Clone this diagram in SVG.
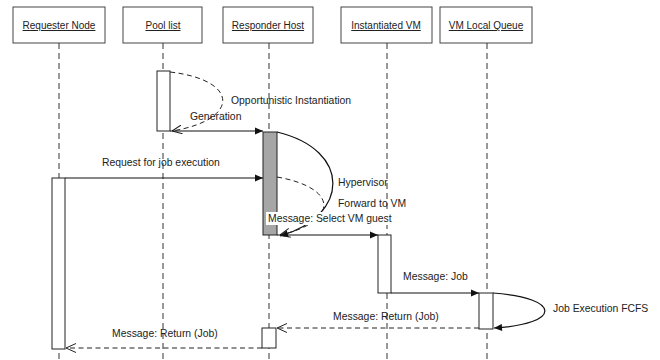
<svg xmlns="http://www.w3.org/2000/svg" width="660" height="360" viewBox="0 0 660 360">
  <style>
    .hdr { fill: #fff; stroke: #444; stroke-width: 1; }
    .life { stroke: #333; stroke-width: 1; stroke-dasharray: 6 4; fill: none; }
    .act { fill: #fff; stroke: #222; stroke-width: 1; }
    .act-busy { fill: #a6a6a6; stroke: #222; stroke-width: 1; }
    .msg { stroke: #111; stroke-width: 1.2; fill: none; }
    .ret { stroke: #222; stroke-width: 1; fill: none; stroke-dasharray: 5 3.5; }
    text { font-family: "Liberation Sans", Arial, sans-serif; font-size: 10.4px; fill: #222; }
    .title { text-anchor: middle; text-decoration: underline; font-size: 10px; }
  </style>
  <defs>
    <marker id="solid-head" viewBox="0 0 10 10" refX="10" refY="5" markerWidth="9" markerHeight="8" markerUnits="userSpaceOnUse" orient="auto">
      <path d="M0,0.5 L10,5 L0,9.5 z" fill="#111"/>
    </marker>
    <marker id="open-head" viewBox="0 0 10 10" refX="10" refY="5" markerWidth="10" markerHeight="10" markerUnits="userSpaceOnUse" orient="auto">
      <path d="M0,0.5 L10,5 L0,9.5" fill="none" stroke="#222" stroke-width="1"/>
    </marker>
  </defs>

  <rect width="660" height="360" fill="#fff"/>

  <!-- lifelines -->
  <g id="requester-node">
    <rect class="hdr" x="13" y="7" width="92" height="36"/>
    <text class="title" x="59" y="29">Requester Node</text>
    <line class="life" x1="59" y1="43" x2="59" y2="360"/>
    <rect class="act" x="52" y="178" width="13" height="171"/>
  </g>
  <g id="pool-list">
    <rect class="hdr" x="123" y="7" width="79" height="36"/>
    <text class="title" x="163" y="29">Pool list</text>
    <line class="life" x1="163" y1="43" x2="163" y2="360"/>
    <rect class="act" x="157" y="71" width="13" height="60"/>
  </g>
  <g id="responder-host">
    <rect class="hdr" x="223" y="7" width="90" height="36"/>
    <text class="title" x="268" y="29">Responder Host</text>
    <line class="life" x1="269" y1="43" x2="269" y2="360"/>
    <rect class="act-busy" x="263" y="132" width="14" height="103"/>
    <rect class="act" x="262" y="328" width="14" height="20"/>
  </g>
  <g id="instantiated-vm">
    <rect class="hdr" x="341" y="7" width="91" height="36"/>
    <text class="title" x="386" y="29">Instantiated VM</text>
    <line class="life" x1="387" y1="43" x2="387" y2="360"/>
    <rect class="act" x="378" y="235" width="13" height="58"/>
  </g>
  <g id="vm-local-queue">
    <rect class="hdr" x="440" y="7" width="92" height="36"/>
    <text class="title" x="486" y="29">VM Local Queue</text>
    <line class="life" x1="487" y1="43" x2="487" y2="360"/>
    <rect class="act" x="479" y="293" width="14" height="36"/>
  </g>

  <!-- messages -->
  <g id="connectors">
    <!-- self call on pool list -->
    <path class="ret" d="M170,72 C240,80 240,120 172,131" marker-end="url(#open-head)"/>
    <line class="msg" x1="170" y1="131" x2="263" y2="131" marker-end="url(#solid-head)"/>
    <line class="msg" x1="65" y1="178" x2="263" y2="178" marker-end="url(#solid-head)"/>
    <!-- hypervisor self calls -->
    <path class="msg" d="M277,132 C352,150 350,216 280,236" marker-end="url(#solid-head)"/>
    <path class="ret" d="M277,177 C340,188 338,222 280,235" marker-end="url(#open-head)"/>
    <line class="msg" x1="277" y1="235" x2="378" y2="235" marker-end="url(#solid-head)"/>
    <line class="msg" x1="391" y1="293" x2="479" y2="293" marker-end="url(#solid-head)"/>
    <path class="msg" d="M493,293 C562,298 562,324 494,328" marker-end="url(#solid-head)"/>
    <line class="ret" x1="479" y1="328" x2="277" y2="328" marker-end="url(#open-head)"/>
    <line class="ret" x1="262" y1="348" x2="66" y2="348" marker-end="url(#open-head)"/>
  </g>

  <!-- labels -->
  <g id="labels">
    <text x="231" y="104">Opportunistic Instantiation</text>
    <text x="190" y="120">Generation</text>
    <text x="102" y="166">Request for job execution</text>
    <text x="338" y="186">Hypervisor</text>
    <text x="338" y="207">Forward to VM</text>
    <rect x="266" y="212" width="127" height="13" fill="#fff"/>
    <text x="268" y="222">Message: Select VM guest</text>
    <text x="403" y="280">Message: Job</text>
    <text x="553" y="312">Job Execution FCFS</text>
    <text x="333" y="320">Message: Return (Job)</text>
    <text x="112" y="337">Message: Return (Job)</text>
  </g>
</svg>
